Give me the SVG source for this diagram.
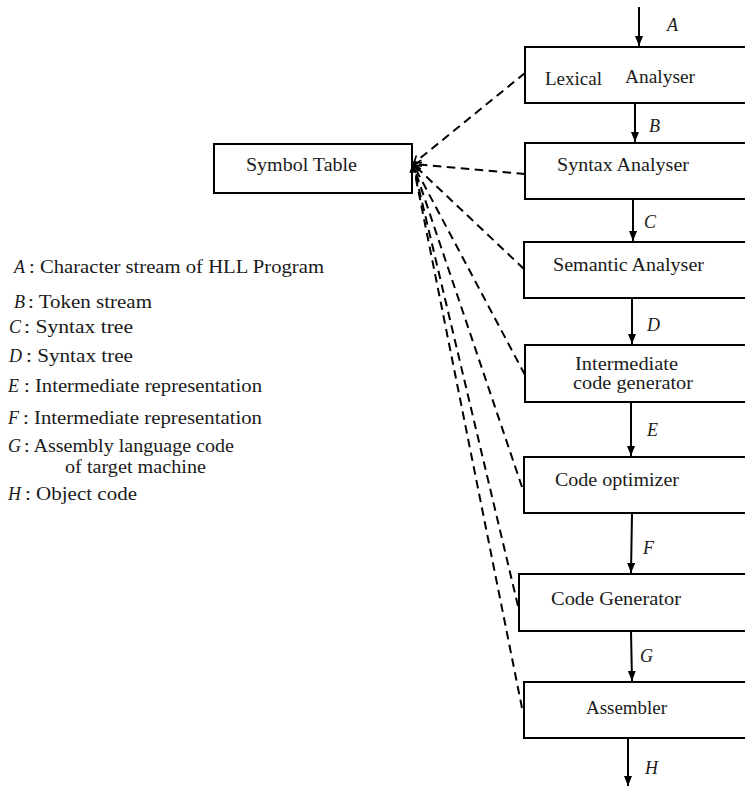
<svg xmlns="http://www.w3.org/2000/svg" width="745" height="786" viewBox="0 0 745 786">
<style>
  .box { fill: #ffffff; stroke: #000000; stroke-width: 2; }
  .t { font-family: "Liberation Serif", "DejaVu Serif", "Times New Roman", serif; font-size: 18px; fill: #1a1a1a; }
  .it { font-family: "Liberation Serif", "DejaVu Serif", "Times New Roman", serif; font-size: 18px; font-style: italic; fill: #1a1a1a; }
  .flow { stroke: #000000; stroke-width: 2; fill: none; marker-end: url(#solid); }
  .dash { stroke: #000000; stroke-width: 2; fill: none; stroke-dasharray: 8.5 5.5; marker-end: url(#open); }
</style>
<defs>
  <marker id="solid" markerUnits="userSpaceOnUse" markerWidth="12" markerHeight="10" refX="10" refY="4" orient="auto">
    <path d="M0,0 L10,4 L0,8 Z" fill="#000000"/>
  </marker>
  <marker id="open" markerUnits="userSpaceOnUse" markerWidth="12" markerHeight="12" refX="9" refY="6" orient="auto">
    <path d="M1,1.5 Q5,4.5 9,6 Q5,7.5 1,10.5" fill="none" stroke="#000000" stroke-width="1.6"/>
  </marker>
</defs>

<g id="symbol-table">
  <rect class="box" x="214" y="144" width="198" height="49"/>
  <text class="t" x="246" y="171" textLength="111" lengthAdjust="spacingAndGlyphs">Symbol Table</text>
</g>

<g id="lexical-analyser">
  <rect class="box" x="525" y="47" width="240" height="56"/>
  <text class="t" x="545" y="85" textLength="57" lengthAdjust="spacingAndGlyphs">Lexical</text>
  <text class="t" x="625" y="83" textLength="70" lengthAdjust="spacingAndGlyphs">Analyser</text>
</g>

<g id="syntax-analyser">
  <rect class="box" x="525" y="143" width="240" height="56"/>
  <text class="t" x="557" y="171" textLength="132" lengthAdjust="spacingAndGlyphs">Syntax Analyser</text>
</g>

<g id="semantic-analyser">
  <rect class="box" x="524" y="242" width="240" height="56"/>
  <text class="t" x="553" y="271" textLength="151" lengthAdjust="spacingAndGlyphs">Semantic Analyser</text>
</g>

<g id="intermediate-code-generator">
  <rect class="box" x="525" y="345" width="240" height="57"/>
  <text class="t" x="575" y="370" textLength="103" lengthAdjust="spacingAndGlyphs">Intermediate</text>
  <text class="t" x="573" y="389" textLength="120" lengthAdjust="spacingAndGlyphs">code generator</text>
</g>

<g id="code-optimizer">
  <rect class="box" x="524" y="457" width="240" height="56"/>
  <text class="t" x="555" y="486" textLength="124" lengthAdjust="spacingAndGlyphs">Code optimizer</text>
</g>

<g id="code-generator">
  <rect class="box" x="519" y="574" width="245" height="57"/>
  <text class="t" x="551" y="605" textLength="130" lengthAdjust="spacingAndGlyphs">Code Generator</text>
</g>

<g id="assembler">
  <rect class="box" x="524" y="682" width="240" height="56"/>
  <text class="t" x="586" y="714" textLength="81" lengthAdjust="spacingAndGlyphs">Assembler</text>
</g>

<g id="connectors">
  <line class="flow" x1="639" y1="7" x2="639" y2="46"/>
  <line class="flow" x1="635" y1="103" x2="635" y2="142"/>
  <line class="flow" x1="633" y1="199" x2="633" y2="241"/>
  <line class="flow" x1="632" y1="298" x2="632" y2="344"/>
  <line class="flow" x1="631" y1="402" x2="631" y2="456"/>
  <line class="flow" x1="632" y1="513" x2="631" y2="573"/>
  <line class="flow" x1="631" y1="631" x2="632" y2="681"/>
  <line class="flow" x1="628" y1="739" x2="628" y2="786"/>

  <line class="dash" x1="525" y1="73" x2="413" y2="164"/>
  <line class="dash" x1="525" y1="174" x2="413" y2="164"/>
  <line class="dash" x1="524" y1="269" x2="413" y2="164"/>
  <line class="dash" x1="525" y1="375" x2="413" y2="164"/>
  <line class="dash" x1="522" y1="487" x2="413" y2="164"/>
  <line class="dash" x1="518" y1="606" x2="413" y2="164"/>
  <line class="dash" x1="522" y1="708" x2="413" y2="164"/>

  <text class="it" x="667" y="31">A</text>
  <text class="it" x="649" y="132">B</text>
  <text class="it" x="644" y="228">C</text>
  <text class="it" x="647" y="331">D</text>
  <text class="it" x="647" y="436">E</text>
  <text class="it" x="643" y="554">F</text>
  <text class="it" x="640" y="662">G</text>
  <text class="it" x="645" y="774">H</text>
</g>

<g id="legend">
  <text class="it" x="14" y="273">A</text>
  <text class="t" x="29" y="273" textLength="295" lengthAdjust="spacingAndGlyphs">: Character stream of HLL Program</text>
  <text class="it" x="14" y="308">B</text>
  <text class="t" x="28" y="308" textLength="124" lengthAdjust="spacingAndGlyphs">: Token stream</text>
  <text class="it" x="9" y="333">C</text>
  <text class="t" x="24" y="333" textLength="109" lengthAdjust="spacingAndGlyphs">: Syntax tree</text>
  <text class="it" x="9" y="362">D</text>
  <text class="t" x="26" y="362" textLength="107" lengthAdjust="spacingAndGlyphs">: Syntax tree</text>
  <text class="it" x="8" y="392">E</text>
  <text class="t" x="24" y="392" textLength="238" lengthAdjust="spacingAndGlyphs">: Intermediate representation</text>
  <text class="it" x="8" y="424">F</text>
  <text class="t" x="23" y="424" textLength="239" lengthAdjust="spacingAndGlyphs">: Intermediate representation</text>
  <text class="it" x="8" y="452">G</text>
  <text class="t" x="24" y="452" textLength="210" lengthAdjust="spacingAndGlyphs">: Assembly language code</text>
  <text class="t" x="65" y="473" textLength="141" lengthAdjust="spacingAndGlyphs">of target machine</text>
  <text class="it" x="8" y="500">H</text>
  <text class="t" x="25" y="500" textLength="112" lengthAdjust="spacingAndGlyphs">: Object code</text>
</g>
</svg>
